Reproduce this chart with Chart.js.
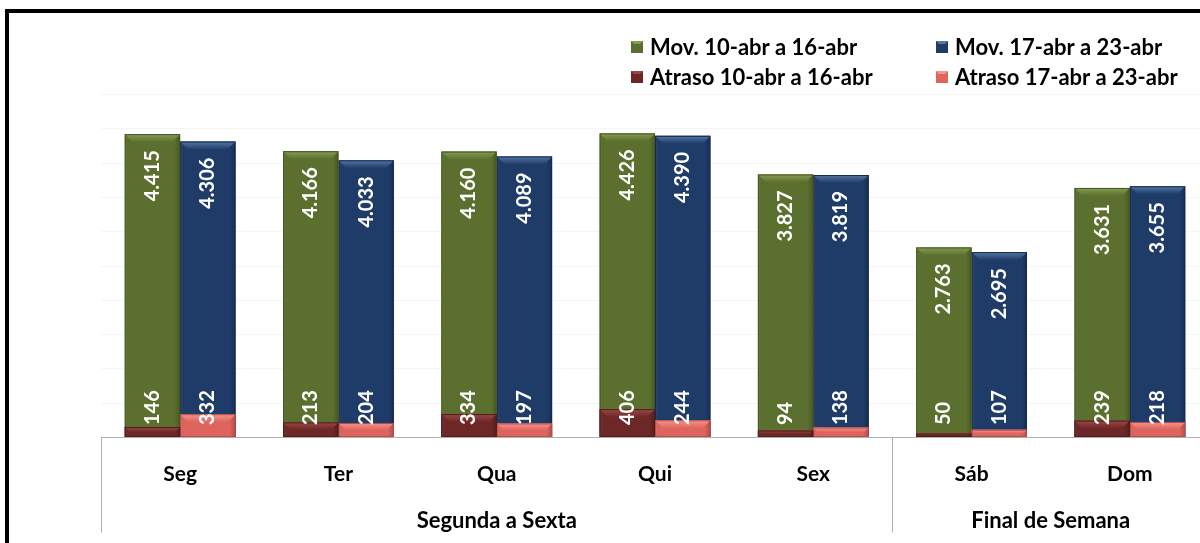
<!DOCTYPE html>
<html>
<head>
<meta charset="utf-8">
<script src="https://cdn.jsdelivr.net/npm/chart.js@4.4.1/dist/chart.umd.min.js"></script>
<style>
    html, body { margin: 0; padding: 0; width: 1200px; height: 543px; overflow: hidden; background: #fff; }
    #frame { position: absolute; left: 5px; top: 9px; width: 1300px; height: 700px; border: 4px solid #000; }
    #chart { position: absolute; left: 0; top: 0; }
</style>
</head>
<body>
<div id="frame"></div>
<canvas id="chart" width="1230" height="543"></canvas>
<script>
const days = ['Seg', 'Ter', 'Qua', 'Qui', 'Sex', 'Sáb', 'Dom'];
const groups = [
    { label: 'Segunda a Sexta', from: 0, to: 4 },
    { label: 'Final de Semana', from: 5, to: 6 }
];
const mov1 = [4415, 4166, 4160, 4426, 3827, 2763, 3631];
const mov2 = [4306, 4033, 4089, 4390, 3819, 2695, 3655];
const atraso1 = [146, 213, 334, 406, 94, 50, 239];
const atraso2 = [332, 204, 197, 244, 138, 107, 218];
const seriesNames = ['Mov. 10-abr a 16-abr', 'Mov. 17-abr a 23-abr', 'Atraso 10-abr a 16-abr', 'Atraso 17-abr a 23-abr'];
const yMax = 5000;
const yStep = 500;

const FONT = 'Lato, "Liberation Sans", sans-serif';
// main colour, bevel highlight, outline
const palette = [
    ['#5b702e', '#869d52', '#45561f'],
    ['#1f3b68', '#5577a6', '#142a4d'],
    ['#6e2727', '#9c4848', '#521b1b'],
    ['#de645e', '#f4978f', '#b54d48']
];

function fmt(v) {
    return v.toLocaleString('pt-BR');
}

const barStyle = {
    id: 'barStyle',
    afterDatasetDraw(chart, args) {
        const ctx = chart.ctx;
        const meta = args.meta;
        const col = palette[args.index];
        meta.data.forEach(function(bar) {
            const p = bar.getProps(['x', 'y', 'base', 'width'], true);
            const left = p.x - p.width / 2;
            const right = p.x + p.width / 2;
            const top = p.y;
            const h = p.base - p.y;
            if (h <= 0) return;
            ctx.save();
            // side shading
            const g = ctx.createLinearGradient(left, 0, right, 0);
            g.addColorStop(0, 'rgba(255,255,255,0.10)');
            g.addColorStop(0.08, 'rgba(0,0,0,0)');
            g.addColorStop(0.9, 'rgba(0,0,0,0)');
            g.addColorStop(1, 'rgba(0,0,0,0.22)');
            ctx.fillStyle = g;
            ctx.fillRect(left, top, p.width, h);
            // top bevel
            const b = Math.min(8, h / 2);
            const tg = ctx.createLinearGradient(0, top, 0, top + b);
            tg.addColorStop(0, col[1]);
            tg.addColorStop(1, col[0]);
            ctx.beginPath();
            ctx.moveTo(left, top);
            ctx.lineTo(right, top);
            ctx.lineTo(right - b, top + b);
            ctx.lineTo(left + b, top + b);
            ctx.closePath();
            ctx.fillStyle = tg;
            ctx.fill();
            ctx.strokeStyle = col[2];
            ctx.lineWidth = 1;
            ctx.strokeRect(left + 0.5, top + 0.5, p.width - 1, h - 1);
            ctx.restore();
        });
    }
};

const decorations = {
    id: 'decorations',
    beforeDatasetsDraw(chart) {
        const ctx = chart.ctx;
        const area = chart.chartArea;
        const y = chart.scales.y;
        ctx.save();
        ctx.strokeStyle = '#f5f5f5';
        ctx.lineWidth = 1;
        for (let v = yStep; v <= yMax; v += yStep) {
            const py = Math.round(y.getPixelForValue(v)) + 0.5;
            ctx.beginPath();
            ctx.moveTo(area.left, py);
            ctx.lineTo(area.right, py);
            ctx.stroke();
        }
        ctx.restore();
    },
    afterDatasetsDraw(chart) {
        const ctx = chart.ctx;
        const area = chart.chartArea;
        const x = chart.scales.x;
        const step = (area.right - area.left) / days.length;
        ctx.save();

        // value labels, rotated
        ctx.fillStyle = '#ffffff';
        ctx.font = 'bold 20px ' + FONT;
        ctx.textBaseline = 'middle';
        [0, 1].forEach(function(di) {
            const movMeta = chart.getDatasetMeta(di);
            const movData = di === 0 ? mov1 : mov2;
            const atrData = di === 0 ? atraso1 : atraso2;
            movMeta.data.forEach(function(bar, i) {
                const p = bar.getProps(['x', 'y', 'base'], true);
                ctx.save();
                ctx.translate(p.x, p.y + 16);
                ctx.rotate(-Math.PI / 2);
                ctx.textAlign = 'right';
                ctx.fillText(fmt(movData[i]), 0, 0);
                ctx.restore();
                ctx.save();
                ctx.translate(p.x, p.base - 12);
                ctx.rotate(-Math.PI / 2);
                ctx.textAlign = 'left';
                ctx.fillText(fmt(atrData[i]), 0, 0);
                ctx.restore();
            });
        });

        // axis line and separators
        ctx.strokeStyle = '#b0b0b0';
        ctx.lineWidth = 1;
        const base = Math.round(area.bottom) + 0.5;
        ctx.beginPath();
        ctx.moveTo(area.left, base);
        ctx.lineTo(area.right, base);
        ctx.stroke();
        [0, 5, 7].forEach(function(k) {
            const px = Math.round(area.left + k * step) + 0.5;
            ctx.beginPath();
            ctx.moveTo(px, base);
            ctx.lineTo(px, base + 95);
            ctx.stroke();
        });

        // category and group labels
        ctx.fillStyle = '#000000';
        ctx.textAlign = 'center';
        ctx.font = 'bold 21px ' + FONT;
        days.forEach(function(d, i) {
            ctx.fillText(d, x.getPixelForValue(i), base + 37);
        });
        ctx.font = 'bold 22px ' + FONT;
        groups.forEach(function(gr) {
            const cx = area.left + (gr.from + gr.to + 1) / 2 * step;
            ctx.fillText(gr.label, cx, base + 83);
        });

        // legend, two rows
        const legendPos = [[631, 47], [936, 47], [631, 77], [936, 77]];
        ctx.textAlign = 'left';
        ctx.font = 'bold 22px ' + FONT;
        seriesNames.forEach(function(name, i) {
            const lx = legendPos[i][0];
            const ly = legendPos[i][1];
            const col = palette[i];
            ctx.fillStyle = col[0];
            ctx.fillRect(lx, ly - 6, 12, 12);
            ctx.fillStyle = col[1];
            ctx.beginPath();
            ctx.moveTo(lx, ly - 6);
            ctx.lineTo(lx + 12, ly - 6);
            ctx.lineTo(lx + 9, ly - 3);
            ctx.lineTo(lx + 3, ly - 3);
            ctx.closePath();
            ctx.fill();
            ctx.fillStyle = '#000000';
            ctx.fillText(name, lx + 19, ly + 1);
        });
        ctx.restore();
    }
};

// Mov and Atraso of the same week share one slot (stack), values are not summed
function makeDataset(label, data, idx, stack, order) {
    return {
        label: label,
        data: data,
        backgroundColor: palette[idx][0],
        borderWidth: 0,
        stack: stack,
        order: order,
        categoryPercentage: 0.7,
        barPercentage: 1.0
    };
}

const canvas = document.getElementById('chart');
new Chart(canvas, {
    type: 'bar',
    data: {
        labels: days,
        datasets: [
            makeDataset(seriesNames[0], mov1, 0, 'w1', 2),
            makeDataset(seriesNames[1], mov2, 1, 'w2', 2),
            makeDataset(seriesNames[2], atraso1, 2, 'w1', 1),
            makeDataset(seriesNames[3], atraso2, 3, 'w2', 1)
        ]
    },
    options: {
        responsive: false,
        animation: false,
        devicePixelRatio: 1,
        layout: {
            padding: { left: 101, right: 21, top: 94, bottom: 106 }
        },
        plugins: {
            legend: { display: false },
            tooltip: { enabled: false }
        },
        scales: {
            x: { display: false },
            y: { display: false, stacked: false, min: 0, max: yMax }
        }
    },
    plugins: [barStyle, decorations]
});
</script>
</body>
</html>
